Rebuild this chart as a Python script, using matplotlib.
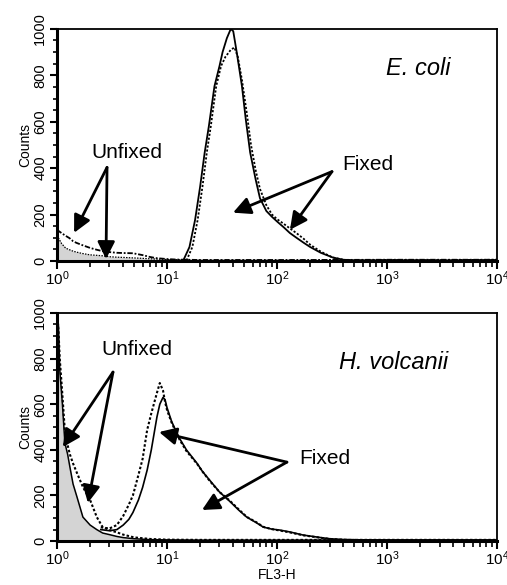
import numpy as np
import matplotlib
matplotlib.use("Agg")
import matplotlib.pyplot as plt
from matplotlib.ticker import LogLocator, MultipleLocator, NullFormatter

plt.rcParams['font.family'] = ['Liberation Sans', 'DejaVu Sans']
plt.rcParams['mathtext.fontset'] = 'custom'
plt.rcParams['mathtext.rm'] = 'Liberation Sans'
plt.rcParams['mathtext.it'] = 'Liberation Sans:italic'

# ---------------- E. coli (top panel) ----------------
ecoli_fixed_x = [10, 13, 14, 16, 18, 20, 22, 24, 27, 30, 32, 35, 38, 40, 43, 48, 52, 57,
                 64, 70, 80, 90, 100, 115, 131, 150, 175, 200, 250, 320, 400, 500, 1000, 3000, 10000]
ecoli_fixed_a = [3, 2, 0, 60, 177, 320, 467, 580, 753, 840, 900, 960, 1000, 990, 900, 753, 610, 467,
                 350, 270, 215, 190, 170, 145, 120, 100, 78, 60, 35, 15, 5, 2, 3, 2, 4]
ecoli_fixed_b_x = [10, 13, 15, 17, 19, 21, 23, 25, 28, 31, 34, 38, 41, 44, 48, 53, 58,
                   64, 70, 80, 90, 100, 115, 131, 150, 175, 200, 250, 320, 400, 500, 1000, 3000, 10000]
ecoli_fixed_b = [2, 1, 0, 60, 177, 320, 467, 580, 753, 840, 880, 910, 920, 880, 780, 640, 500,
                 390, 310, 240, 200, 180, 160, 140, 120, 95, 70, 40, 15, 5, 2, 4, 3, 5]
ecoli_unfixed_x = [1.0, 1.1, 1.2, 1.3, 1.4, 1.5, 1.7, 2.0, 2.3, 2.6, 3.0, 3.5, 4.0, 4.9, 6.0, 7.0,
                   8.0, 10, 12, 15, 20, 50, 200, 1000, 10000]
ecoli_unfixed_a = [134, 120, 108, 98, 85, 78, 68, 56, 48, 42, 38, 35, 34, 33, 25, 17,
                   12, 8, 6, 5, 4, 4, 4, 5, 5]
ecoli_unfixed_b = [110, 75, 55, 48, 42, 38, 32, 26, 24, 22, 18, 16, 15, 13, 11, 9,
                   8, 6, 5, 4, 3, 3, 3, 3, 3]

# ---------------- H. volcanii (bottom panel) ----------------
hvol_unfixed_x = [1.0, 1.03, 1.06, 1.12, 1.18, 1.25, 1.31, 1.4, 1.52, 1.72, 2.0, 2.3, 2.6, 3.0,
                  3.5, 4.0, 5.0, 7.0, 10, 20, 50, 200, 1000, 10000]
hvol_unfixed_a = [1000, 950, 750, 600, 430, 380, 325, 250, 193, 105, 70, 50, 35, 28,
                  20, 15, 10, 6, 5, 4, 4, 4, 4, 4]
hvol_unfixed_b = [1000, 930, 800, 640, 480, 420, 380, 340, 298, 237, 180, 105, 61, 48,
                  38, 28, 16, 9, 6, 5, 5, 5, 5, 5]
hvol_fixed_x = [2.5, 3.0, 3.5, 4.0, 4.5, 4.9, 5.5, 6.0, 6.6, 7.2, 8.1, 8.6, 9.2, 9.6, 10, 11, 12,
                13, 15, 18.8, 21, 24.6, 30, 37, 45, 53, 65, 75, 90, 106, 130, 173, 250, 300, 400,
                600, 1000, 10000]
hvol_fixed_a = [50, 45, 50, 70, 95, 125, 180, 235, 311, 400, 544, 600, 630, 620, 585, 525, 485,
                450, 400, 340, 305, 265, 215, 175, 135, 105, 80, 61, 52, 48, 40, 26, 15, 10, 6,
                4, 3, 3]
hvol_fixed_b = [60, 55, 70, 110, 160, 200, 290, 360, 487, 560, 650, 693, 660, 610, 575, 520, 480,
                445, 395, 338, 305, 262, 215, 178, 138, 106, 82, 62, 52, 46, 38, 25, 14, 9, 6,
                4, 3, 3]

fig = plt.figure(figsize=(5.07, 5.85), dpi=100)
ax1 = fig.add_axes([0.1124, 0.554, 0.868, 0.3966])
ax2 = fig.add_axes([0.1124, 0.0752, 0.868, 0.3897])

dot = (0, (1.2, 1.0))
gray = '#d4d4d4'

# top
ax1.fill_between(ecoli_unfixed_x, ecoli_unfixed_b, color=gray, lw=0)
ax1.plot(ecoli_unfixed_x, ecoli_unfixed_b, color='k', lw=0.9, ls=dot)
ax1.plot(ecoli_unfixed_x, ecoli_unfixed_a, color='k', lw=1.3, ls=(0, (3, 1, 1, 1)))
ax1.plot(ecoli_fixed_b_x, ecoli_fixed_b, color='k', lw=1.3, ls=dot)
ax1.plot(ecoli_fixed_x, ecoli_fixed_a, color='k', lw=1.3)

# bottom
ax2.fill_between(hvol_unfixed_x, hvol_unfixed_a, color=gray, lw=0)
ax2.plot(hvol_unfixed_x, hvol_unfixed_a, color='k', lw=1.1)
ax2.plot(hvol_unfixed_x, hvol_unfixed_b, color='k', lw=1.5, ls=dot)
ax2.plot(hvol_fixed_x, hvol_fixed_b, color='k', lw=1.5, ls=dot)
ax2.plot(hvol_fixed_x, hvol_fixed_a, color='k', lw=1.2)

for ax in (ax1, ax2):
    ax.set_xscale('log')
    ax.set_xlim(1, 1e4)
    ax.set_ylim(0, 1000)
    ax.xaxis.set_major_locator(LogLocator(base=10, numticks=10))
    ax.xaxis.set_minor_locator(LogLocator(base=10, subs=np.arange(2, 10), numticks=10))
    ax.xaxis.set_minor_formatter(NullFormatter())
    ax.yaxis.set_major_locator(MultipleLocator(200))
    ax.yaxis.set_minor_locator(MultipleLocator(50))
    ax.tick_params(axis='x', which='major', direction='out', length=6, width=1.5, labelsize=11, pad=0)
    ax.tick_params(axis='x', which='minor', direction='out', length=4, width=1.2)
    ax.tick_params(axis='y', which='major', direction='out', length=5, width=1.5, labelsize=10.5, pad=2)
    ax.tick_params(axis='y', which='minor', direction='out', length=3, width=1.2)
    for lab in ax.get_yticklabels():
        lab.set_rotation(90)
        lab.set_va('center')
    ax.spines['left'].set_linewidth(2.2)
    ax.spines['bottom'].set_linewidth(2.2)
    ax.spines['top'].set_linewidth(1.3)
    ax.spines['right'].set_linewidth(1.3)
    ax.set_ylabel('Counts', fontsize=10, labelpad=1)

ax2.set_xlabel('FL3-H', fontsize=10, labelpad=0)

ap = dict(arrowstyle='-|>', lw=2.0, color='k', mutation_scale=26, shrinkA=0, shrinkB=0)

def arrows(ax, start, tips):
    for t in tips:
        ax.annotate('', xy=t, xytext=start, arrowprops=ap)

ax1.text(0.82, 0.83, 'E. coli', transform=ax1.transAxes, fontsize=17, style='italic', ha='center', va='center')
ax1.text(4.33, 467, 'Unfixed', fontsize=15, ha='center', va='center')
arrows(ax1, (2.85, 403), [(1.43, 121), (2.79, 8)])
ax1.text(672, 416, 'Fixed', fontsize=15, ha='center', va='center')
arrows(ax1, (316, 385), [(39.8, 208), (131, 134)])

ax2.text(0.764, 0.785, 'H. volcanii', transform=ax2.transAxes, fontsize=17, style='italic', ha='center', va='center')
ax2.text(5.34, 838, 'Unfixed', fontsize=15, ha='center', va='center')
arrows(ax2, (3.23, 741), [(1.13, 412), (1.91, 167)])
ax2.text(273, 364, 'Fixed', fontsize=15, ha='center', va='center')
arrows(ax2, (123, 346), [(8.46, 478), (20.8, 136)])

fig.savefig('out.png', dpi=100)
